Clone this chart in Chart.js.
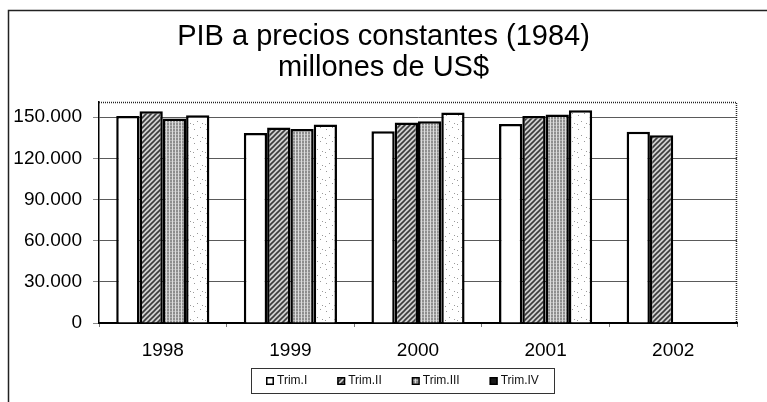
<!DOCTYPE html>
<html>
<head>
<meta charset="utf-8">
<script src="https://cdn.jsdelivr.net/npm/chart.js@4.4.1/dist/chart.umd.min.js"></script>
<style>
  html, body { margin: 0; padding: 0; background: #fff; }
</style>
</head>
<body>
<canvas id="myChart" width="767" height="402"></canvas>
<script>
// datos
var years = ['1998', '1999', '2000', '2001', '2002'];
var trim1 = [150900, 138500, 139800, 145100, 139300];
var trim2 = [154300, 142400, 146100, 150900, 136900];
var trim3 = [149000, 141400, 147000, 151900, null];
var trim4 = [151400, 144600, 153400, 155100, null];
var seriesNames = ['Trim.I', 'Trim.II', 'Trim.III', 'Trim.IV'];
var yTicks = [0, 30000, 60000, 90000, 120000, 150000];
var titleLines = ['PIB a precios constantes (1984)', 'millones de US$'];

var FONT = 'Arial, "Liberation Sans", Helvetica, sans-serif';

function makeTile(w, h, paint) {
    var c = document.createElement('canvas');
    c.width = w; c.height = h;
    var g = c.getContext('2d');
    paint(g);
    return document.createElement('canvas').getContext('2d').createPattern(c, 'repeat');
}

// rayado diagonal
var patHatch = makeTile(5, 5, function(g){
    g.fillStyle = '#cfcfcf';
    g.fillRect(0, 0, 5, 5);
    g.strokeStyle = '#3a3a3a';
    g.lineWidth = 1.6;
    g.beginPath();
    g.moveTo(-1, 6); g.lineTo(6, -1);
    g.moveTo(-1, 1); g.lineTo(1, -1);
    g.moveTo(4, 6); g.lineTo(6, 4);
    g.stroke();
});

// trama gris
var patGrid = makeTile(3, 3, function(g){
    g.fillStyle = '#8e8e8e';
    g.fillRect(0, 0, 3, 3);
    g.fillStyle = '#dcdcdc';
    g.fillRect(1, 0, 1, 3);
    g.fillStyle = '#b4b4b4';
    g.fillRect(0, 2, 1, 1);
    g.fillRect(2, 2, 1, 1);
});

// punteado
var patDots = makeTile(12, 14, function(g){
    g.fillStyle = '#ffffff';
    g.fillRect(0, 0, 12, 14);
    g.fillStyle = '#9a9a9a';
    g.fillRect(2, 3, 1, 1);
    g.fillRect(8, 1, 1, 1);
    g.fillRect(5, 9, 1, 1);
    g.fillRect(10, 11, 1, 1);
    g.fillRect(1, 12, 1, 1);
});

function fmt(v) {
    return String(v).replace(/\B(?=(\d{3})+(?!\d))/g, '.');
}

var framePlugin = {
    id: 'frame',
    afterLayout: function(chart) {
        // que las etiquetas del eje y no se recorten
        chart.scales.y.left = 0;
    },
    beforeDraw: function(chart) {
        var ctx = chart.ctx;
        ctx.save();
        ctx.fillStyle = '#fff';
        ctx.fillRect(0, 0, chart.width, chart.height);
        ctx.strokeStyle = '#222';
        ctx.lineWidth = 1.5;
        ctx.beginPath();
        ctx.moveTo(8.5, chart.height);
        ctx.lineTo(8.5, 10.5);
        ctx.lineTo(chart.width, 10.5);
        ctx.stroke();
        ctx.restore();
    },
    beforeDatasetsDraw: function(chart) {
        var a = chart.chartArea, ctx = chart.ctx;
        ctx.save();
        ctx.strokeStyle = '#222';
        ctx.lineWidth = 1.5;
        ctx.setLineDash([1, 1]);
        ctx.beginPath();
        ctx.moveTo(a.left, a.top + 0.5);
        ctx.lineTo(a.right - 0.5, a.top + 0.5);
        ctx.lineTo(a.right - 0.5, a.bottom);
        ctx.stroke();
        ctx.restore();
    }
};

// en la leyenda la marca del Trim.IV sale oscura
var legendMarks = ['#ffffff', patHatch, patGrid, '#1a1a1a'];

var legendPlugin = {
    id: 'boxLegend',
    afterDraw: function(chart) {
        var ctx = chart.ctx;
        var sets = chart.data.datasets;
        ctx.save();
        ctx.font = '12px ' + FONT;
        var box = 8, gapText = 3, gap = 30, pad = 15;
        var widths = sets.map(function(d){ return box + gapText + ctx.measureText(d.label).width; });
        var total = widths.reduce(function(s, w){ return s + w; }, 0) + gap * (sets.length - 1) + pad * 2;
        var cx = 402, top = 368, h = 25;
        var left = Math.round(cx - total / 2);
        ctx.strokeStyle = '#333';
        ctx.lineWidth = 1;
        ctx.strokeRect(left + 0.5, top + 0.5, Math.round(total), h);
        var x = left + pad;
        var cy = top + h / 2 + 0.5;
        sets.forEach(function(d, i){
            ctx.fillStyle = legendMarks[i];
            ctx.fillRect(x, cy - box / 2, box, box);
            ctx.strokeStyle = '#000';
            ctx.lineWidth = 1.5;
            ctx.strokeRect(x + 0.75, cy - box / 2 + 0.75, box - 1.5, box - 1.5);
            ctx.fillStyle = '#111';
            ctx.textBaseline = 'middle';
            ctx.textAlign = 'left';
            ctx.fillText(d.label, x + box + gapText, cy);
            x += widths[i] + gap;
        });
        ctx.restore();
    }
};

var fills = [ '#ffffff', patHatch, patGrid, patDots ];
var values = [ trim1, trim2, trim3, trim4 ];

var datasets = seriesNames.map(function(name, i){
    return {
        label: name,
        data: values[i],
        backgroundColor: fills[i],
        borderColor: '#000',
        borderWidth: 2.5,
        categoryPercentage: 0.73,
        barPercentage: 1.0
    };
});

var ctx = document.getElementById('myChart').getContext('2d');
var chart = new Chart(ctx, {
    type: 'bar',
    data: {
        labels: years,
        datasets: datasets
    },
    options: {
        responsive: false,
        animation: false,
        layout: { padding: { left: 30, right: 30, top: 0, bottom: 0 } },
        plugins: {
            legend: { display: false },
            tooltip: { enabled: false },
            title: {
                display: true,
                text: titleLines,
                color: '#000',
                font: { family: FONT, size: 29, weight: 'normal', lineHeight: 1.07 },
                padding: { top: 21, bottom: 19 }
            }
        },
        scales: {
            x: {
                grid: {
                    display: true,
                    drawOnChartArea: false,
                    drawTicks: true,
                    tickLength: 4,
                    tickColor: '#777',
                    offset: true
                },
                border: { display: true, color: '#000', width: 2 },
                ticks: {
                    color: '#000',
                    padding: 12,
                    font: { family: FONT, size: 19 }
                },
                afterFit: function(scale){ scale.height = 79; }
            },
            y: {
                min: 0,
                max: 161000,
                grid: {
                    color: '#5a5a5a',
                    lineWidth: 1,
                    drawTicks: true,
                    tickLength: 6,
                    tickColor: '#888'
                },
                border: { display: true, color: '#000', width: 1.5 },
                ticks: {
                    color: '#000',
                    padding: 11,
                    font: { family: FONT, size: 19 },
                    callback: function(v){ return fmt(v); }
                },
                afterBuildTicks: function(scale){
                    scale.ticks = yTicks.map(function(v){ return { value: v }; });
                },
                afterFit: function(scale){ scale.width = 69; }
            }
        }
    },
    plugins: [framePlugin, legendPlugin]
});
</script>
</body>
</html>
